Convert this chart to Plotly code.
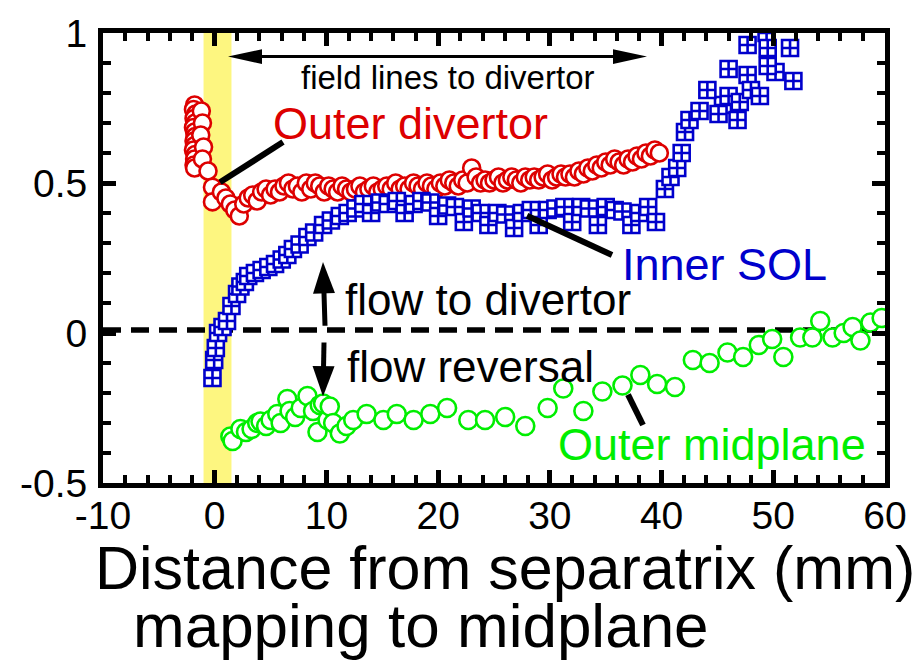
import plotly.graph_objects as go
import math

# ---------------- data ----------------
red_x = [-1.8, -1.9, -1.7, -1.85, -1.75, -1.9, -1.8, -1.75, -1.85, -1.8, -1.9, -1.75, -1.8, -1.85, -1.8,
         -1.2, -1.1, -1.25, -1.0, -1.1, -0.6, -0.2, -0.2,
         0.6, 1.0, 1.4, 1.8, 2.2, 2.6, 3.0, 3.4, 3.8, 4.2, 4.6, 5.0, 5.4, 5.8, 6.2, 6.6, 7.0, 7.4, 7.8,
         8.2, 8.6, 9.0, 9.4, 9.8, 10.2, 10.6, 11.0, 11.4, 11.8, 12.2, 12.6, 13.0, 13.4, 13.8, 14.2, 14.6,
         15.0, 15.4, 15.8, 16.2, 16.6, 17.0, 17.4, 17.8, 18.2, 18.6, 19.0, 19.4, 19.8, 20.2, 20.6, 21.0,
         21.4, 21.8, 22.2, 22.6, 23.0, 23.4, 23.8, 24.2, 24.6, 25.0, 25.4, 25.8, 26.2, 26.6, 27.0, 27.4,
         27.8, 28.2, 28.6, 29.0, 29.4, 29.8, 30.2, 30.6, 31.0, 31.4, 31.8, 32.2, 32.6, 33.0, 33.4, 33.8,
         34.2, 34.6, 35.0, 35.4, 35.8, 36.2, 36.6, 37.0, 37.4, 37.8, 38.2, 38.6, 39.0, 39.4, 39.8]
red_y = [0.76, 0.745, 0.73, 0.715, 0.70, 0.685, 0.67, 0.655, 0.64, 0.625, 0.61, 0.595, 0.58, 0.56, 0.55,
         0.74, 0.70, 0.66, 0.62, 0.58, 0.54, 0.486, 0.437,
         0.47, 0.45, 0.43, 0.41, 0.39, 0.43, 0.45, 0.46, 0.44, 0.47, 0.48, 0.46, 0.48, 0.47, 0.49, 0.50,
         0.48, 0.49, 0.47, 0.50, 0.48, 0.50, 0.49, 0.47, 0.49, 0.48, 0.47, 0.49, 0.48, 0.47, 0.48, 0.49,
         0.47, 0.48, 0.49, 0.47, 0.48, 0.49, 0.48, 0.50, 0.48, 0.49, 0.48, 0.50, 0.49, 0.48, 0.50, 0.49,
         0.48, 0.50, 0.49, 0.51, 0.50, 0.49, 0.51, 0.50, 0.55, 0.52, 0.50, 0.51, 0.50, 0.51, 0.52, 0.50,
         0.51, 0.52, 0.51, 0.50, 0.52, 0.51, 0.52, 0.51, 0.52, 0.53, 0.51, 0.52, 0.53, 0.52, 0.53, 0.52,
         0.54, 0.53, 0.55, 0.54, 0.56, 0.55, 0.57, 0.56, 0.58, 0.57, 0.56, 0.58, 0.57, 0.59, 0.58, 0.60,
         0.59, 0.61, 0.60]

blue_x = [-0.2, -0.05, 0.1, 0.3, 0.7, 1.1, 1.5, 2.0, 2.3, 2.7, 3.0, 3.6, 4.2, 4.8, 5.4, 6.0, 6.5, 7.0,
          7.6, 8.3, 8.9, 9.7, 10.4, 11.2, 11.9, 12.6, 13.3, 14.0, 14.8, 15.5, 16.3, 17.0, 17.8, 18.5,
          19.3, 20.0, 20.8, 21.5, 22.3, 23.0, 23.8, 24.5, 25.3, 26.0, 26.8, 27.5, 28.3, 29.0, 29.8,
          30.5, 31.3, 32.0, 32.8, 33.5, 34.3, 35.0, 35.8, 36.5, 37.3, 38.0, 38.8, 39.5,
          40.3, 40.8, 41.4, 41.8, 42.1, 42.5, 43.4, 45.5, 44.1, 45.1, 46.0, 46.0, 46.8, 47.0, 47.7,
          47.7, 48.0, 48.8, 49.4, 49.5, 50.2, 49.5, 51.5, 51.8]
blue_y = [-0.15, -0.09, -0.05, 0.0, 0.02, 0.04, 0.09, 0.13, 0.155, 0.17, 0.19, 0.20, 0.21, 0.22, 0.23,
          0.245, 0.26, 0.28, 0.295, 0.32, 0.335, 0.36, 0.375, 0.39, 0.40, 0.415, 0.43, 0.40, 0.435,
          0.43, 0.44, 0.40, 0.43, 0.44, 0.435, 0.39, 0.425, 0.42, 0.37, 0.415, 0.40, 0.36, 0.40,
          0.395, 0.35, 0.40, 0.41, 0.36, 0.41, 0.415, 0.42, 0.37, 0.42, 0.415, 0.36, 0.42, 0.41,
          0.405, 0.36, 0.40, 0.42, 0.37,
          0.48, 0.52, 0.55, 0.60, 0.67, 0.71, 0.74, 0.76, 0.81, 0.73, 0.79, 0.88, 0.71, 0.77, 0.96,
          0.86, 0.81, 0.79, 1.0, 0.95, 0.87, 0.89, 0.95, 0.84]

green_x = [1.4, 1.6, 2.3, 2.8, 3.3, 3.8, 4.1, 4.6, 5.0, 5.6, 5.9, 6.5, 6.7, 7.2, 7.7, 8.3, 8.8, 9.2,
           9.4, 9.7, 10.1, 10.3, 10.6, 11.2, 11.8, 12.4, 13.6, 15.1, 16.3, 17.8, 19.3, 20.8, 22.7,
           24.2, 26.0, 27.8, 29.8, 31.2, 33.0, 34.7, 36.5, 38.1, 39.6, 41.2, 42.8, 44.3, 45.9, 47.3,
           48.7, 49.9, 50.9, 52.4, 53.5, 54.2, 55.3, 56.3, 57.1, 57.8, 58.7, 59.7]
green_y = [-0.345, -0.36, -0.32, -0.33, -0.32, -0.30, -0.295, -0.31, -0.29, -0.27, -0.30, -0.22,
           -0.26, -0.28, -0.25, -0.21, -0.26, -0.33, -0.24, -0.235, -0.29, -0.245, -0.30, -0.335,
           -0.31, -0.29, -0.27, -0.29, -0.27, -0.29, -0.27, -0.25, -0.29, -0.29, -0.28, -0.31,
           -0.25, -0.185, -0.26, -0.195, -0.175, -0.14, -0.17, -0.18, -0.09, -0.10, -0.065, -0.08,
           -0.04, -0.02, -0.08, -0.015, -0.015, 0.04, -0.015, 0.0, 0.02, -0.025, 0.035, 0.05]

x_tickvals = [-10, 0, 10, 20, 30, 40, 50, 60]
x_ticktext = ["-10", "0", "10", "20", "30", "40", "50", "60"]
y_tickvals = [-0.5, 0, 0.5, 1]
y_ticktext = ["-0.5", "0", "0.5", "1"]

RED = "#dd0000"
BLUE = "#0000cc"
GREEN = "#00ee00"
FONT = "Liberation Sans, Arial, sans-serif"

# plot-area pixel geometry
L, R, T, B = 103, 36, 25, 179
W, H = 921, 662
PW, PH = W - L - R, H - T - B


def P(px, py):
    return (px - L) / PW, (H - B - py) / PH


def seg(p0, p1, w):
    a, b = P(*p0), P(*p1)
    return dict(type="line", xref="paper", yref="paper", x0=a[0], y0=a[1], x1=b[0], y1=b[1],
                line=dict(color="black", width=w), layer="above")


def head(tip, tail, hl, hw):
    dx, dy = tip[0] - tail[0], tip[1] - tail[1]
    n = math.hypot(dx, dy)
    ux, uy = dx / n, dy / n
    bx, by = tip[0] - ux * hl, tip[1] - uy * hl
    p1 = (bx - uy * hw / 2, by + ux * hw / 2)
    p2 = (bx + uy * hw / 2, by - ux * hw / 2)
    pts = [P(*tip), P(*p1), P(*p2)]
    path = "M{},{} L{},{} L{},{} Z".format(pts[0][0], pts[0][1], pts[1][0], pts[1][1], pts[2][0], pts[2][1])
    return dict(type="path", xref="paper", yref="paper", path=path, fillcolor="black",
                line=dict(color="black", width=0), layer="above"), (bx + ux * 2, by + uy * 2)


fig = go.Figure()

fig.add_trace(go.Scatter(x=[-10, 60], y=[0.01, 0.01], mode="lines",
                         line=dict(color="black", width=5.5, dash="18px,10px"), hoverinfo="skip"))
fig.add_trace(go.Scatter(x=red_x, y=red_y, mode="markers",
                         marker=dict(symbol="circle", size=17, color="white",
                                     line=dict(color=RED, width=2.6))))
fig.add_trace(go.Scatter(x=blue_x, y=blue_y, mode="markers",
                         marker=dict(symbol="square-cross", size=16, color="white",
                                     line=dict(color=BLUE, width=2.6))))
fig.add_trace(go.Scatter(x=green_x, y=green_y, mode="markers",
                         marker=dict(symbol="circle", size=18, color="white",
                                     line=dict(color=GREEN, width=2.6))))

shapes = [dict(type="rect", xref="x", yref="y", x0=-1.0, x1=1.5, y0=-0.5, y1=1.0,
               fillcolor="#fdf680", line=dict(width=0), layer="below")]

# leader lines
shapes.append(seg((220, 177), (283, 136), 6))
shapes.append(seg((527, 211), (612, 251), 6))
shapes.append(seg((628, 393), (643, 424), 6))

# double arrow: field lines to divertor
hA, bA = head((228, 49), (647, 49), 34, 15)
hB, bB = head((647, 49), (228, 49), 34, 15)
shapes += [hA, hB, seg(bA, bB, 3)]
# up arrow
hU, bU = head((323, 258), (325, 323), 32, 22)
shapes += [hU, seg((325, 323), bU, 5)]
# down arrow
hD, bD = head((323, 395), (324, 340), 31, 22)
shapes += [hD, seg((324, 340), bD, 5)]


def txt(text, px, py, size, color="black"):
    x, y = P(px, py)
    return dict(text=text, xref="paper", yref="paper", x=x, y=y, showarrow=False,
                xanchor="center", yanchor="middle", font=dict(family=FONT, size=size, color=color))


annotations = [
    txt("field lines to divertor", 447, 70, 33),
    txt("Outer divertor", 410, 117, 45, RED),
    txt("Inner SOL", 724, 261, 45, BLUE),
    txt("flow to divertor", 488, 296, 44),
    txt("flow reversal", 470, 364, 44),
    txt("Outer midplane", 712, 444, 45, GREEN),
    txt("Distance from separatrix (mm)", 505, 570, 61),
    txt("mapping to midplane", 421, 628, 62),
]

axis_common = dict(showgrid=False, zeroline=False, showline=True, linecolor="black", linewidth=5,
                   mirror="ticks", ticks="inside", ticklen=13, tickwidth=5, tickcolor="black",
                   tickfont=dict(family=FONT, size=39, color="black"))

fig.update_layout(
    width=W, height=H, margin=dict(l=L, r=R, t=T, b=B, pad=0),
    paper_bgcolor="white", plot_bgcolor="white", showlegend=False,
    xaxis=dict(range=[-10, 60], tickvals=x_tickvals, ticktext=x_ticktext,
               minor=dict(dtick=2, tick0=0, ticks="inside", ticklen=8, tickwidth=4, tickcolor="black"),
               ticklabelstandoff=-6, **axis_common),
    yaxis=dict(range=[-0.5, 1], tickvals=y_tickvals, ticktext=y_ticktext,
               minor=dict(dtick=0.1, tick0=0, ticks="inside", ticklen=8, tickwidth=4, tickcolor="black"),
               ticklabelstandoff=3, **axis_common),
    shapes=shapes, annotations=annotations,
)

fig.write_html("out.html", config={"displayModeBar": False})
